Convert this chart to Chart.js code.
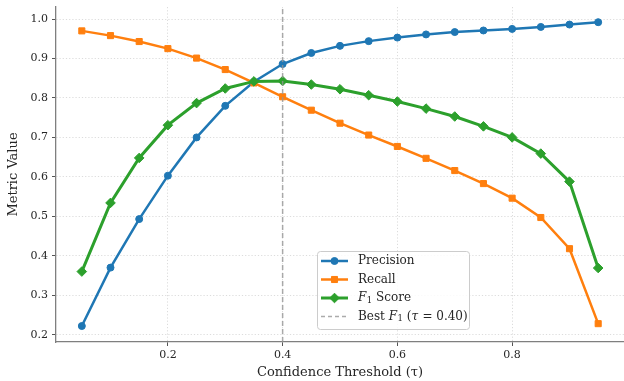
<!DOCTYPE html>
<html>
<head>
<meta charset="utf-8">
<script src="https://cdn.jsdelivr.net/npm/chart.js@4"></script>
<style>
  html, body { margin: 0; padding: 0; background: #fff; }
  #wrap { width: 624px; height: 381px; position: relative; }
</style>
</head>
<body>
<div id="wrap"><canvas id="metricsChart"></canvas></div>
<script>
// thresholds on the x axis
const thresholds = [0.05, 0.10, 0.15, 0.20, 0.25, 0.30, 0.35, 0.40, 0.45, 0.50,
                    0.55, 0.60, 0.65, 0.70, 0.75, 0.80, 0.85, 0.90, 0.95];
const precision = [0.222, 0.370, 0.493, 0.603, 0.700, 0.780, 0.841, 0.886, 0.914, 0.932,
                   0.944, 0.953, 0.961, 0.967, 0.971, 0.975, 0.980, 0.986, 0.992];
const recall = [0.970, 0.958, 0.943, 0.925, 0.901, 0.872, 0.838, 0.803, 0.769, 0.736,
                0.706, 0.677, 0.647, 0.616, 0.583, 0.546, 0.497, 0.418, 0.228];
const f1 = [0.360, 0.534, 0.648, 0.731, 0.787, 0.824, 0.842, 0.843, 0.834, 0.822,
            0.807, 0.791, 0.773, 0.753, 0.728, 0.700, 0.659, 0.588, 0.369];
const bestThreshold = 0.40;
const xTicks = [0.2, 0.4, 0.6, 0.8];
const yTicks = [0.2, 0.3, 0.4, 0.5, 0.6, 0.7, 0.8, 0.9, 1.0];

const X_MIN = 0.005, X_MAX = 0.995;
const Y_MIN = 0.1815, Y_MAX = 1.0305;

const serif = "'DejaVu Serif', serif";
const textColor = '#262626';

function toPoints(ys) {
  return thresholds.map((x, i) => ({ x: x, y: ys[i] }));
}

// legend entries, with parts so F1 gets its italic + subscript
const legendItems = [
  { color: '#1f77b4', width: 2.5, marker: 'circle', parts: [{ t: 'Precision' }] },
  { color: '#ff7f0e', width: 2.5, marker: 'rect', parts: [{ t: 'Recall' }] },
  { color: '#2ca02c', width: 3, marker: 'rectRot', parts: [{ t: 'F', it: true }, { t: '1', sub: true }, { t: ' Score' }] },
  { color: 'rgba(150,150,150,0.8)', width: 1.5, dash: [4, 3], parts: [
      { t: 'Best ' }, { t: 'F', it: true }, { t: '1', sub: true }, { t: ' (' }, { t: 'τ', it: true },
      { t: ' = 0.40)' }] }
];

const legendPlugin = {
  id: 'boxLegend',
  afterDraw(chart) {
    const ctx = chart.ctx;
    const bx = 317, by = 251, bw = 152, bh = 78;
    ctx.save();
    ctx.beginPath();
    ctx.roundRect(bx + 0.5, by + 0.5, bw, bh, 3);
    ctx.fillStyle = 'rgba(255,255,255,0.85)';
    ctx.fill();
    ctx.strokeStyle = '#cccccc';
    ctx.lineWidth = 1;
    ctx.stroke();

    const rowY = [261, 279.5, 298, 316.5];
    legendItems.forEach((item, i) => {
      const y = rowY[i];
      ctx.beginPath();
      ctx.setLineDash(item.dash || []);
      ctx.strokeStyle = item.color;
      ctx.lineWidth = item.width;
      ctx.moveTo(321, y);
      ctx.lineTo(348, y);
      ctx.stroke();
      ctx.setLineDash([]);
      if (item.marker) {
        ctx.fillStyle = item.color;
        ctx.strokeStyle = item.color;
        ctx.lineWidth = 1;
        const r = item.marker === 'circle' ? 3.5 : (item.marker === 'rect' ? 4.3 : 4.8);
        Chart.helpers.drawPoint(ctx, { pointStyle: item.marker, radius: r, borderWidth: 1 }, 334.5, y);
      }
      let x = 358;
      ctx.fillStyle = textColor;
      ctx.textBaseline = 'middle';
      ctx.textAlign = 'left';
      item.parts.forEach(p => {
        const size = p.sub ? 8.5 : 12;
        ctx.font = (p.it ? 'italic ' : '') + size + 'px ' + serif;
        ctx.fillText(p.t, x, p.sub ? y + 2.5 : y);
        x += ctx.measureText(p.t).width + (p.it ? 0.5 : 0);
      });
    });
    ctx.restore();
  }
};

new Chart(document.getElementById('metricsChart'), {
  type: 'line',
  data: {
    datasets: [
      {
        label: 'Precision',
        data: toPoints(precision),
        borderColor: '#1f77b4',
        backgroundColor: '#1f77b4',
        borderWidth: 2.5,
        pointStyle: 'circle',
        pointRadius: 3.5,
        pointBorderWidth: 1,
        tension: 0,
        order: 4
      },
      {
        label: 'Recall',
        data: toPoints(recall),
        borderColor: '#ff7f0e',
        backgroundColor: '#ff7f0e',
        borderWidth: 2.5,
        pointStyle: 'rect',
        pointRadius: 4.3,
        pointBorderWidth: 1,
        tension: 0,
        order: 3
      },
      {
        label: 'F1 Score',
        data: toPoints(f1),
        borderColor: '#2ca02c',
        backgroundColor: '#2ca02c',
        borderWidth: 3,
        pointStyle: 'rectRot',
        pointRadius: 4.8,
        pointBorderWidth: 1,
        tension: 0,
        order: 2
      },
      {
        label: 'Best F1',
        data: [{ x: bestThreshold, y: Y_MIN }, { x: bestThreshold, y: Y_MAX }],
        borderColor: 'rgba(150,150,150,0.8)',
        borderWidth: 1.5,
        borderDash: [5, 3],
        pointRadius: 0,
        order: 1
      }
    ]
  },
  options: {
    responsive: true,
    maintainAspectRatio: false,
    animation: false,
    layout: { autoPadding: false, padding: { top: 7, right: 0, left: 0, bottom: 0 } },
    plugins: {
      legend: { display: false },
      tooltip: { enabled: false }
    },
    scales: {
      x: {
        type: 'linear',
        min: X_MIN,
        max: X_MAX,
        afterBuildTicks: axis => { axis.ticks = xTicks.map(v => ({ value: v })); },
        afterFit: axis => {
          axis.height = 39;
          axis.paddingLeft = 0;
          axis.paddingRight = 0;
        },
        ticks: {
          callback: v => v.toFixed(1),
          color: textColor,
          font: { family: serif, size: 11 },
          padding: 3,
          maxRotation: 0
        },
        grid: {
          color: 'rgba(200,200,200,0.8)',
          lineWidth: 0.8,
          tickColor: '#555',
          tickLength: 4,
          tickWidth: 1
        },
        border: { color: '#7f7f7f', width: 1.3, dash: [1.2, 2] },
        title: {
          display: true,
          text: 'Confidence Threshold (τ)',
          color: textColor,
          font: { family: serif, size: 13 },
          padding: { top: 0, bottom: 1 }
        }
      },
      y: {
        type: 'linear',
        min: Y_MIN,
        max: Y_MAX,
        afterBuildTicks: axis => { axis.ticks = yTicks.map(v => ({ value: v })); },
        afterFit: axis => {
          axis.width = 56;
          axis.paddingTop = 0;
          axis.paddingBottom = 0;
        },
        ticks: {
          callback: v => v.toFixed(1),
          color: textColor,
          font: { family: serif, size: 11 },
          padding: 4
        },
        grid: {
          color: 'rgba(200,200,200,0.8)',
          lineWidth: 0.8,
          tickColor: '#555',
          tickLength: 4,
          tickWidth: 1
        },
        border: { color: '#7f7f7f', width: 1.3, dash: [1.2, 2] },
        title: {
          display: true,
          text: 'Metric Value',
          color: textColor,
          font: { family: serif, size: 13 },
          padding: { top: 6, bottom: 0 }
        }
      }
    }
  },
  plugins: [legendPlugin]
});
</script>
</body>
</html>
